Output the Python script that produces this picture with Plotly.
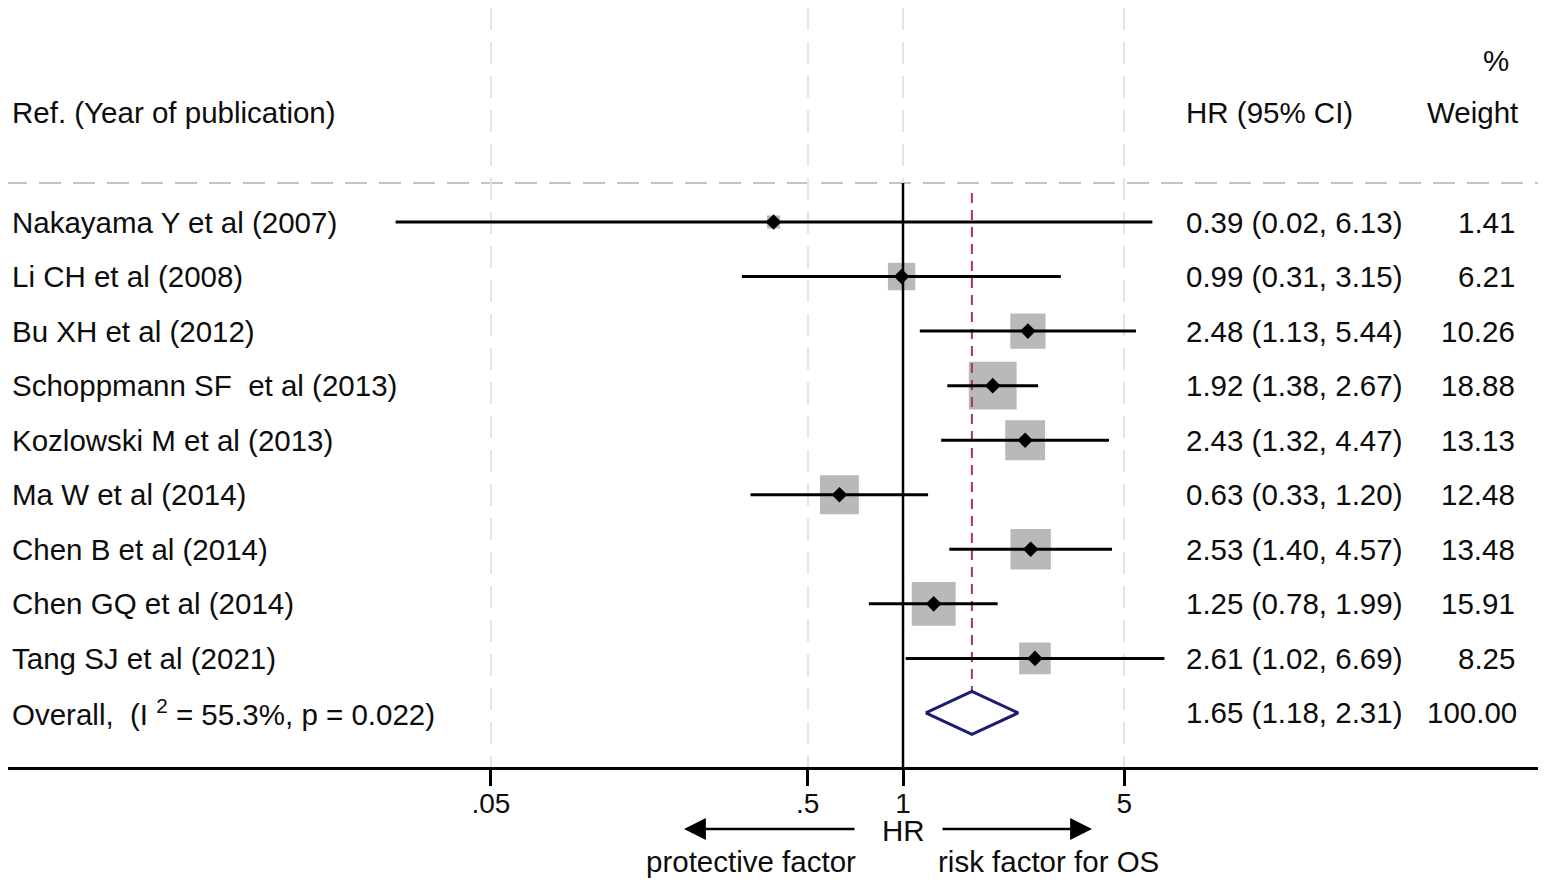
import numpy as np
import plotly.graph_objects as go

# ---------------- data ----------------
studies = [
    "Nakayama Y et al (2007)",
    "Li CH et al (2008)",
    "Bu XH et al (2012)",
    "Schoppmann SF  et al (2013)",
    "Kozlowski M et al (2013)",
    "Ma W et al (2014)",
    "Chen B et al (2014)",
    "Chen GQ et al (2014)",
    "Tang SJ et al (2021)",
]
hr = [0.39, 0.99, 2.48, 1.92, 2.43, 0.63, 2.53, 1.25, 2.61]
ci_low = [0.025, 0.31, 1.13, 1.38, 1.32, 0.33, 1.40, 0.78, 1.02]
ci_high = [6.13, 3.15, 5.44, 2.67, 4.47, 1.20, 4.57, 1.99, 6.69]
weights = [1.41, 6.21, 10.26, 18.88, 13.13, 12.48, 13.48, 15.91, 8.25]
ci_labels = [
    "0.39 (0.02, 6.13)", "0.99 (0.31, 3.15)", "2.48 (1.13, 5.44)",
    "1.92 (1.38, 2.67)", "2.43 (1.32, 4.47)", "0.63 (0.33, 1.20)",
    "2.53 (1.40, 4.57)", "1.25 (0.78, 1.99)", "2.61 (1.02, 6.69)",
]
weight_labels = ["1.41", "6.21", "10.26", "18.88", "13.13", "12.48", "13.48", "15.91", "8.25"]

overall_text = "Overall,  (I <sup>2</sup> = 55.3%, p = 0.022)"
overall_hr = 1.65
overall_low = 1.18
overall_high = 2.31
overall_ci_label = "1.65 (1.18, 2.31)"
overall_weight_label = "100.00"

tick_vals = [0.05, 0.5, 1, 5]
tick_text = [".05", ".5", "1", "5"]

header_study = "Ref. (Year of publication)"
header_ci = "HR (95% CI)"
header_weight = "Weight"
header_pct = "%"
axis_title = "HR"
left_label = "protective factor"
right_label = "risk factor for OS"

# ---------------- layout helpers ----------------
# page body has an 8px margin: the figure starts at (8, 8) in the window
OFF = 8
W, H = 1546 - OFF, 882 - OFF
PLOT_LEFT_REF, PLOT_RIGHT_REF = 8, 1540      # reference-window pixels
PLOT_TOP_REF, PLOT_BOTTOM_REF = 8, 767
ML = PLOT_LEFT_REF - OFF
MR = W - (PLOT_RIGHT_REF - OFF)
MT = PLOT_TOP_REF - OFF
MB = H - (PLOT_BOTTOM_REF - OFF)
PLOT_W = PLOT_RIGHT_REF - PLOT_LEFT_REF
PLOT_H = PLOT_BOTTOM_REF - PLOT_TOP_REF
ROW0_PX, ROW_STEP = 222, 54.55      # reference pixel of first row, row spacing
PX_ONE, PX_DEC = 903, 316.7         # reference pixel of HR=1, pixels per decade
PAD = 3                              # annotation inner padding

def px_x(px):
    return (px - PLOT_LEFT_REF) / PLOT_W

def px_y(py):
    return 1 - (py - PLOT_TOP_REF) / PLOT_H

x_range = [(PLOT_LEFT_REF - PX_ONE) / PX_DEC, (PLOT_RIGHT_REF - PX_ONE) / PX_DEC]
y_range = [(PLOT_BOTTOM_REF - ROW0_PX) / ROW_STEP, (PLOT_TOP_REF - ROW0_PX) / ROW_STEP]

FONT = "Liberation Sans, Arial, sans-serif"
FS = 29.5
TXT = "#0D0D0D"

n = len(studies)
rows = list(range(n))
overall_row = n

fig = go.Figure()

# weight boxes
fig.add_trace(go.Scatter(
    x=hr, y=rows, mode="markers",
    marker=dict(symbol="square", size=[11.0 * np.sqrt(w) for w in weights],
                color="#B9B9B9", opacity=1, line=dict(width=0)),
    hoverinfo="skip", showlegend=False))

# overall effect dashed line
fig.add_trace(go.Scatter(
    x=[overall_hr, overall_hr], y=[-0.53, overall_row + 0.4], mode="lines",
    line=dict(color="#A23A4C", width=2, dash="10px,7px"),
    hoverinfo="skip", showlegend=False))

# null line at 1
fig.add_trace(go.Scatter(
    x=[1, 1], y=[-0.715, y_range[0]], mode="lines",
    line=dict(color="black", width=2.5),
    hoverinfo="skip", showlegend=False))

# CI lines
cx, cy = [], []
for lo, hi, r in zip(ci_low, ci_high, rows):
    cx += [lo, hi, None]
    cy += [r, r, None]
fig.add_trace(go.Scatter(
    x=cx, y=cy, mode="lines", line=dict(color="black", width=3),
    hoverinfo="skip", showlegend=False))

# point estimates
fig.add_trace(go.Scatter(
    x=hr, y=rows, mode="markers",
    marker=dict(symbol="diamond", size=12, color="black"),
    hoverinfo="skip", showlegend=False))

# overall diamond
dh = 0.394
fig.add_trace(go.Scatter(
    x=[overall_low, overall_hr, overall_high, overall_hr, overall_low],
    y=[overall_row, overall_row - dh, overall_row, overall_row + dh, overall_row],
    mode="lines", fill="toself", fillcolor="white",
    line=dict(color="#1C1C72", width=3),
    hoverinfo="skip", showlegend=False))

annotations = []

def add_text(text, x_ref_px, y, xanchor, yref="y", size=FS):
    if xanchor == "left":
        x_ref_px -= PAD
    elif xanchor == "right":
        x_ref_px += PAD
    annotations.append(dict(
        text=text, x=px_x(x_ref_px), y=y, xref="paper", yref=yref, xanchor=xanchor,
        yanchor="middle", showarrow=False,
        font=dict(family=FONT, size=size, color=TXT)))

for i, r in enumerate(rows):
    add_text(studies[i], 13, r, "left")
    add_text(ci_labels[i], 1187, r, "left")
    add_text(weight_labels[i], 1514, r, "right")

add_text(overall_text, 13, overall_row, "left")
add_text(overall_ci_label, 1187, overall_row, "left")
add_text(overall_weight_label, 1516, overall_row, "right")

# headers
add_text(header_study, 13, px_y(113), "left", yref="paper")
add_text(header_ci, 1187, px_y(113), "left", yref="paper")
add_text(header_weight, 1517, px_y(113), "right", yref="paper")
add_text(header_pct, 1496, px_y(60), "center", yref="paper")

# bottom labels
add_text(axis_title, 903, px_y(830), "center", yref="paper")
add_text(left_label, 751, px_y(861), "center", yref="paper")
add_text(right_label, 1048, px_y(861), "center", yref="paper")

# arrows
for tip, tail in [(684, 856), (1092, 941)]:
    annotations.append(dict(
        x=px_x(tip), y=px_y(829), xref="paper", yref="paper",
        ax=tail - tip, ay=0, axref="pixel", ayref="pixel",
        text=" ", showarrow=True, arrowhead=2, arrowsize=1.75,
        arrowwidth=2.5, arrowcolor="black", standoff=0, startstandoff=0,
        font=dict(size=1)))

shapes = [
    dict(type="line", xref="paper", yref="paper",
         x0=px_x(5), x1=1, y0=px_y(183), y1=px_y(183),
         line=dict(color="#C4C4C4", width=2, dash="22px,12px"), layer="below"),
]

fig.update_layout(
    width=W, height=H,
    margin=dict(l=ML, r=MR, t=MT, b=MB, pad=0),
    paper_bgcolor="white", plot_bgcolor="white",
    showlegend=False,
    annotations=annotations, shapes=shapes,
    xaxis=dict(
        type="log", range=x_range,
        tickvals=tick_vals, ticktext=tick_text,
        ticks="outside", ticklen=16, tickwidth=2.5, tickcolor="black",
        tickfont=dict(family=FONT, size=28, color=TXT),
        ticklabelstandoff=-7,
        showline=True, linewidth=3, linecolor="black",
        showgrid=True, gridcolor="#E4E4E4", gridwidth=2, griddash="22px,12px",
        zeroline=False, fixedrange=True,
    ),
    yaxis=dict(
        range=y_range, visible=False, showgrid=False, zeroline=False,
        fixedrange=True,
    ),
)

fig.write_html("out.html")
